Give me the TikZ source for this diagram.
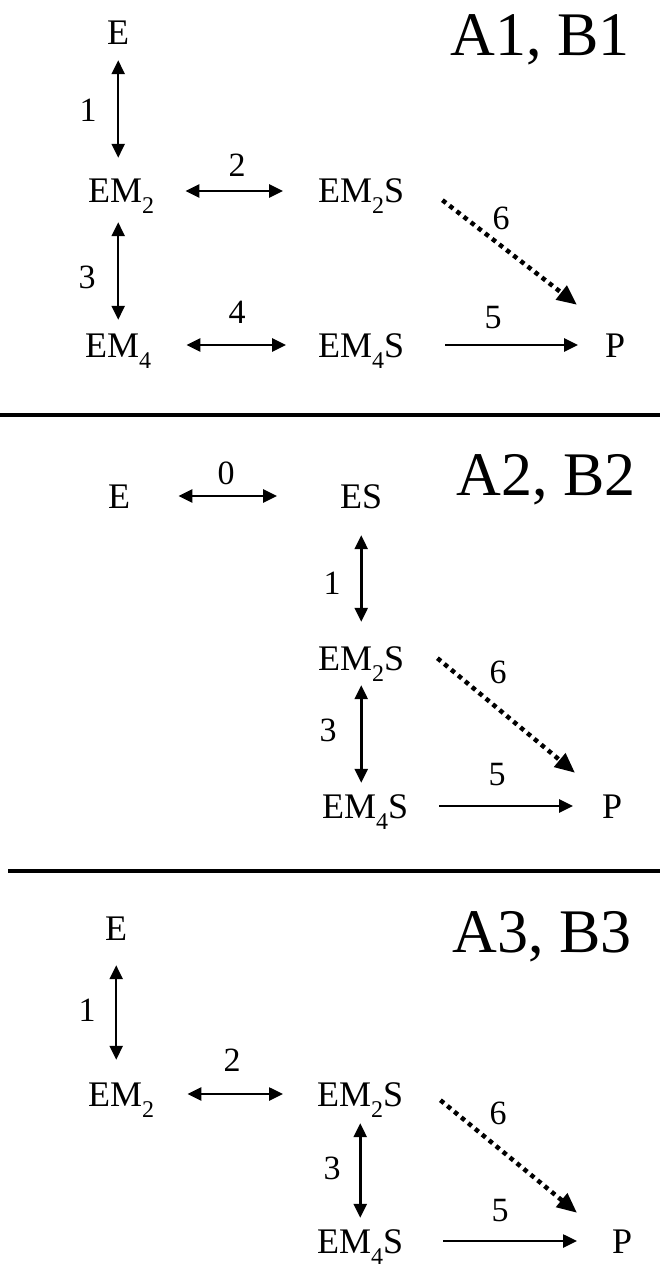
\documentclass[tikz,border=0pt]{standalone}
\usepackage{fontspec}
\setmainfont{Liberation Serif}
\usetikzlibrary{arrows.meta}
\newcommand{\lowsub}[1]{\raisebox{-11pt}{\fontsize{24}{24}\selectfont #1}}

\begin{document}
\begin{tikzpicture}[x=1pt, y=-1pt,
    species/.style={inner sep=0pt, anchor=base west, text height=24pt, text depth=0pt, font=\fontsize{36}{40}\selectfont},
    num/.style={inner sep=0pt, font=\fontsize{34}{40}\selectfont},
    title/.style={inner sep=0pt, font=\fontsize{62}{70}\selectfont},
    rxn/.style={{Triangle[length=14pt,width=13pt]}-{Triangle[length=14pt,width=13pt]}, line width=2.6pt},
    fwd/.style={-{Triangle[length=14pt,width=13pt]}, line width=2.6pt},
    cat/.style={-{Triangle[length=20pt,width=17pt]}, line width=4.5pt, dash pattern=on 4.5pt off 4.5pt},
    sep/.style={line width=4pt}
]
\useasboundingbox (0,0) rectangle (660,1268);

% panel A1, B1
\node[species] (e1) at (107,45) {E};
\node[species] (em2a) at (88,203) {EM\lowsub{2}};
\node[species] (em2s1) at (318,203) {EM\lowsub{2}S};
\node[species] (em4a) at (85,357) {EM\lowsub{4}};
\node[species] (em4s1) at (318,357) {EM\lowsub{4}S};
\node[species] (p1) at (605,357) {P};
\node[title] (t1) at (540,40) {A1, B1};
\coordinate (c6a) at ([xshift=38pt,yshift=3pt]em2s1.south east);
\coordinate (d6a) at ([xshift=-28pt,yshift=28pt]p1.north west);

\draw[rxn, shorten <=15pt, shorten >=21pt] (e1.south) -- (e1.south |- em2a.north);
\draw[rxn, shorten <=31pt, shorten >=35pt] (em2a.east) -- (em2a.east -| em2s1.west);
\draw[rxn, shorten <=19pt, shorten >=13pt] (e1.south |- em2a.south) -- (e1.south |- em4a.north);
\draw[rxn, shorten <=35pt, shorten >=32pt] (em4a.east) -- (em4a.east -| em4s1.west);
\draw[fwd, shorten <=41pt, shorten >=27pt] (em4s1.east) -- (em4s1.east -| p1.west);
\draw[cat] (c6a) -- (d6a);
\node[num] (l1a) at (88,110) {1};
\node[num] (l2a) at (237,165) {2};
\node[num] (l3a) at (87,277) {3};
\node[num] (l4a) at (237,312) {4};
\node[num] (l5a) at (493,318) {5};
\node[num] (l6a) at (501,218) {6};

\draw[sep] (0,415) -- (660,415);

% panel A2, B2
\node[species] (e2) at (108,508) {E};
\node[species] (es2) at (340,508) {ES};
\node[species] (em2s2) at (318,670) {EM\lowsub{2}S};
\node[species] (em4s2) at (322,818) {EM\lowsub{4}S};
\node[species] (p2) at (602,818) {P};
\node[title] (t2) at (546,480) {A2, B2};
\coordinate (c6b) at ([xshift=33pt,yshift=12pt]em2s2.south east);
\coordinate (d6b) at ([xshift=-27pt,yshift=21pt]p2.north west);

\draw[rxn, shorten <=48pt, shorten >=63pt] (e2.east) -- (e2.east -| es2.west);
\draw[rxn, shorten <=27pt, shorten >=24pt] (es2.south) -- (es2.south |- em2s2.north);
\draw[rxn, shorten <=15pt, shorten >=11pt] (em2s2.south) -- (em2s2.south |- em4s2.north);
\draw[fwd, shorten <=31pt, shorten >=29pt] (em4s2.east) -- (em4s2.east -| p2.west);
\draw[cat] (c6b) -- (d6b);
\node[num] (l0b) at (226,473) {0};
\node[num] (l1b) at (332,583) {1};
\node[num] (l3b) at (328,730) {3};
\node[num] (l5b) at (497,775) {5};
\node[num] (l6b) at (498,672) {6};

\draw[sep] (8,871) -- (660,871);

% panel A3, B3
\node[species] (e3) at (105,940) {E};
\node[species] (em2b) at (88,1106) {EM\lowsub{2}};
\node[species] (em2s3) at (317,1106) {EM\lowsub{2}S};
\node[species] (em4s3) at (317,1253) {EM\lowsub{4}S};
\node[species] (p3) at (612,1253) {P};
\node[title] (t3) at (542,937) {A3, B3};
\coordinate (c6c) at ([xshift=37pt,yshift=6pt]em2s3.south east);
\coordinate (d6c) at ([xshift=-35pt,yshift=16pt]p3.north west);

\draw[rxn, shorten <=25pt, shorten >=22pt] (e3.south) -- (e3.south |- em2b.north);
\draw[rxn, shorten <=33pt, shorten >=34pt] (em2b.east) -- (em2b.east -| em2s3.west);
\draw[rxn, shorten <=17pt, shorten >=11pt] (em2s3.south) -- (em2s3.south |- em4s3.north);
\draw[fwd, shorten <=40pt, shorten >=35pt] (em4s3.east) -- (em4s3.east -| p3.west);
\draw[cat] (c6c) -- (d6c);
\node[num] (l1c) at (87,1010) {1};
\node[num] (l2c) at (232,1060) {2};
\node[num] (l3c) at (332,1168) {3};
\node[num] (l5c) at (500,1211) {5};
\node[num] (l6c) at (498,1113) {6};
\end{tikzpicture}
\end{document}
